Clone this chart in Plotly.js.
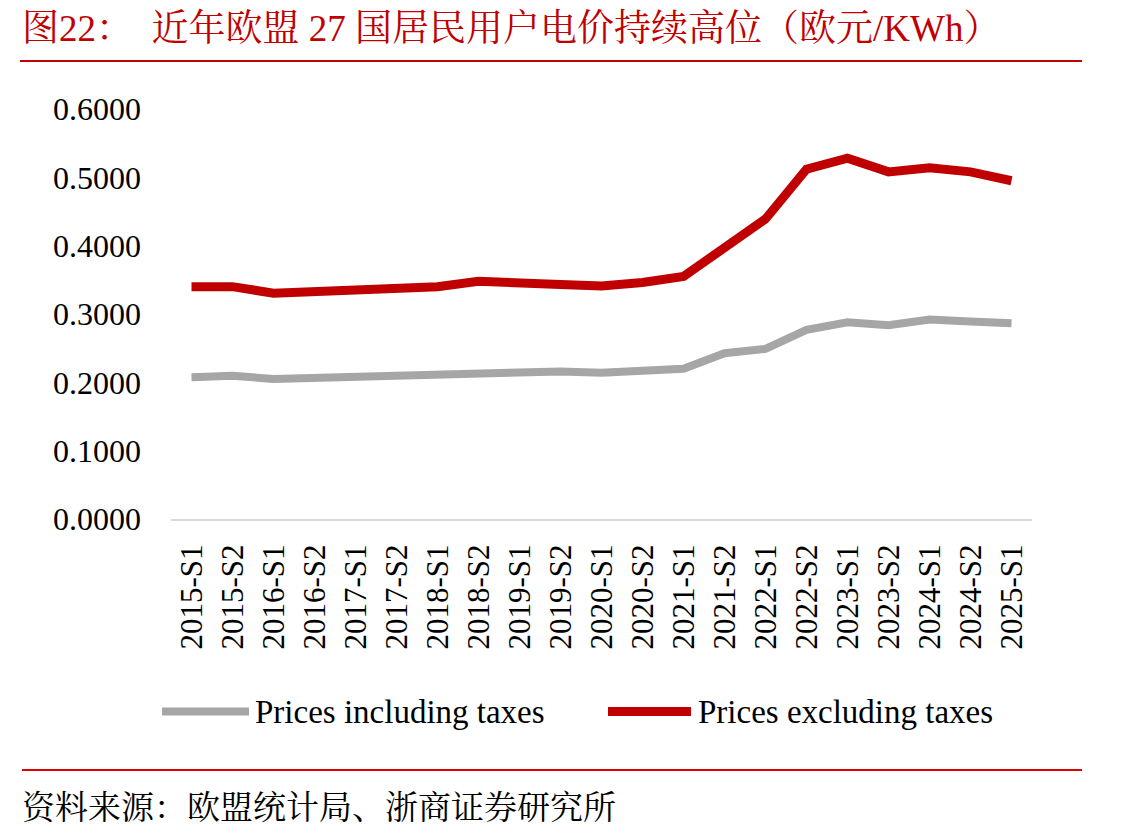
<!DOCTYPE html>
<html>
<head>
<meta charset="utf-8">
<script src="https://cdn.plot.ly/plotly-3.0.1.min.js"></script>
<style>
  html, body { margin: 0; padding: 0; background: #ffffff; }
  #chart { width: 1141px; height: 838px; }
</style>
</head>
<body>
<div id="chart"></div>
<script>
// EU-27 household electricity prices, semi-annual (EUR/kWh)
const periods = [
  "2015-S1", "2015-S2", "2016-S1", "2016-S2", "2017-S1", "2017-S2", "2018-S1",
  "2018-S2", "2019-S1", "2019-S2", "2020-S1", "2020-S2", "2021-S1", "2021-S2",
  "2022-S1", "2022-S2", "2023-S1", "2023-S2", "2024-S1", "2024-S2", "2025-S1"
];
const pricesIncludingTaxes = [
  0.2074, 0.2095, 0.2050, 0.2064, 0.2090, 0.2098, 0.2110,
  0.2147, 0.2160, 0.2160, 0.2140, 0.2160, 0.2200, 0.2426,
  0.2490, 0.2767, 0.2880, 0.2836, 0.2920, 0.2890, 0.2865
];
const pricesExcludingTaxes = [
  0.3400, 0.3400, 0.3304, 0.3330, 0.3350, 0.3350, 0.3400,
  0.3480, 0.3440, 0.3430, 0.3410, 0.3460, 0.3550, 0.3980,
  0.4390, 0.5120, 0.5280, 0.5080, 0.5140, 0.5080, 0.4950
];
const seriesNames = ["Prices including taxes", "Prices excluding taxes"];
const yTicks = [0, 0.1, 0.2, 0.3, 0.4, 0.5, 0.6];

const titleText = "图22：  近年欧盟 27 国居民用户电价持续高位（欧元/KWh）";
const sourceText = "资料来源：欧盟统计局、浙商证券研究所";

const FONT = "'Liberation Serif', 'Times New Roman', 'Noto Serif CJK SC', 'Noto Sans CJK SC', serif";
const GREY = "#a6a6a6";
const RED = "#c00000";

// page geometry (px) used to place the decorations around the plot
const W = 1141, H = 838;
const M = { l: 171, r: 109, t: 109, b: 319 };
const PW = W - M.l - M.r, PH = H - M.t - M.b;
const px = x => (x - M.l) / PW;
const py = y => (H - M.b - y) / PH;

const traces = [
  {
    x: periods, y: pricesIncludingTaxes, name: seriesNames[0],
    type: "scatter", mode: "lines",
    line: { color: GREY, width: 8, shape: "linear" },
    showlegend: false, hoverinfo: "x+y"
  },
  {
    x: periods, y: pricesExcludingTaxes, name: seriesNames[1],
    type: "scatter", mode: "lines",
    line: { color: RED, width: 9, shape: "linear" },
    showlegend: false, hoverinfo: "x+y"
  }
];

// hand-drawn legend with long line samples
const legendItems = [
  { name: seriesNames[0], color: GREY, width: 8, x0: 162, x1: 249, tx: 253 },
  { name: seriesNames[1], color: RED, width: 9, x0: 608, x1: 691, tx: 696 }
];
const legendY = 711.5;

const shapes = [
  // rule under the title
  { type: "line", xref: "paper", yref: "paper", x0: px(20), x1: px(1082), y0: py(61), y1: py(61),
    line: { color: "#c00000", width: 2 } },
  // rule above the source note
  { type: "line", xref: "paper", yref: "paper", x0: px(22), x1: px(1082), y0: py(770), y1: py(770),
    line: { color: "#e00000", width: 2 } }
];
legendItems.forEach(it => {
  shapes.push({ type: "line", xref: "paper", yref: "paper",
    x0: px(it.x0), x1: px(it.x1), y0: py(legendY), y1: py(legendY),
    line: { color: it.color, width: it.width } });
});

const annotations = legendItems.map(it => ({
  text: it.name, xref: "paper", yref: "paper", x: px(it.tx), y: py(legendY),
  xanchor: "left", yanchor: "middle", showarrow: false,
  font: { family: FONT, size: 33, color: "#000000" }
}));
annotations.push({
  text: sourceText, xref: "paper", yref: "paper", x: px(20), y: py(808),
  xanchor: "left", yanchor: "middle", showarrow: false,
  font: { family: FONT, size: 33, color: "#000000" }
});

const layout = {
  width: W, height: H,
  margin: M,
  paper_bgcolor: "#ffffff", plot_bgcolor: "#ffffff",
  font: { family: FONT, color: "#000000" },
  title: {
    text: titleText,
    xref: "container", yref: "container",
    x: 22 / W, xanchor: "left",
    y: 1 - 28 / H, yanchor: "middle",
    font: { family: FONT, size: 37, color: "#c00000" }
  },
  xaxis: {
    type: "category",
    range: [-0.5, periods.length - 0.5],
    tickangle: -90,
    showgrid: false, zeroline: false,
    showline: true, linecolor: "#d9d9d9", linewidth: 2,
    ticks: "", ticklabelstandoff: 11,
    tickfont: { family: FONT, size: 31, color: "#000000" },
    fixedrange: true
  },
  yaxis: {
    range: [0, 0.6],
    tickvals: yTicks,
    tickformat: ".4f",
    showgrid: false, zeroline: false, showline: false,
    ticks: "", ticklabelstandoff: 29,
    tickfont: { family: FONT, size: 32, color: "#000000" },
    fixedrange: true
  },
  shapes: shapes,
  annotations: annotations,
  showlegend: false
};

Plotly.newPlot("chart", traces, layout, { displayModeBar: false, staticPlot: true });
</script>
</body>
</html>
